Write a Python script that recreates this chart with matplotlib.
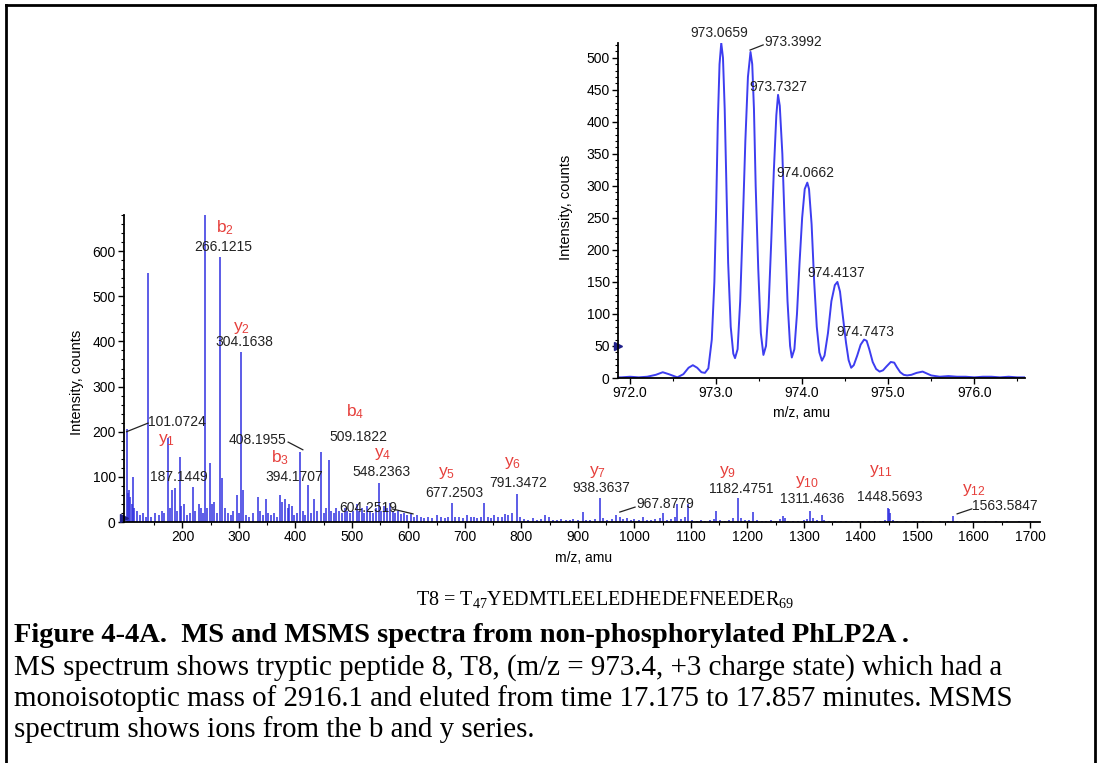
import matplotlib
matplotlib.use("Agg")
import matplotlib.pyplot as plt
from matplotlib.lines import Line2D
from matplotlib.ticker import FixedLocator, MultipleLocator, FormatStrFormatter

plt.rcParams['font.family'] = ['Liberation Sans', 'DejaVu Sans']

# ---------------- MSMS spectrum data (m/z, intensity) ----------------
msms_mz = [101.07, 104, 106, 108, 110, 112.5, 115, 120, 125, 130, 136, 139.1, 145, 152, 158, 163, 168,
           175.12, 178, 182, 187.14, 190, 195, 198, 203, 208, 213, 219, 223, 229, 233, 237, 240.1, 244,
           249, 252, 256, 261, 266.12, 270, 275, 280, 285, 290, 296, 300, 304.16, 307, 312, 318, 325,
           333, 338, 342, 347, 352, 357, 362, 367, 373, 377, 382, 386, 389, 394.17, 398, 403, 408.2,
           413, 417, 422, 427, 433, 438, 445, 450, 454, 459.6, 463, 468, 472, 477, 482, 487, 492, 497,
           502, 509.18, 512, 517, 522, 527, 532, 537, 542, 548.24, 552, 557, 562, 567, 572, 577, 582,
           587, 592, 598, 604.25, 610, 615, 622, 628, 635, 642, 650, 658, 665, 670, 677.25, 683, 690,
           697, 703, 710, 716, 722, 728, 733, 740, 746, 752, 758, 765, 770, 777, 783, 791.35, 797, 805,
           812, 820, 828, 835, 842, 848, 855, 862, 870, 878, 885, 892, 900, 908, 915, 922, 930, 938.36,
           945, 952, 960, 967.88, 975, 980, 987, 993, 1000, 1008, 1015, 1022, 1030, 1037, 1045, 1051,
           1058, 1065, 1072, 1076, 1083, 1090, 1095, 1102, 1110, 1118, 1125, 1133, 1140, 1145, 1152,
           1160, 1168, 1175, 1182.48, 1188, 1195, 1202, 1209, 1216, 1225, 1233, 1242, 1250, 1257, 1262,
           1266, 1272, 1280, 1290, 1300, 1306, 1311.46, 1316, 1323, 1331, 1336, 1345, 1355, 1365, 1375,
           1385, 1395, 1405, 1415, 1425, 1435, 1444, 1448.57, 1450, 1452, 1458, 1465, 1480, 1495, 1510,
           1525, 1540, 1555, 1563.58, 1570, 1585, 1600, 1620, 1640, 1660, 1680, 1700]
msms_int = [205, 65, 70, 55, 40, 100, 30, 25, 15, 20, 10, 552, 12, 20, 15, 25, 20,
            185, 30, 70, 75, 25, 144, 35, 40, 15, 20, 78, 25, 40, 30, 20, 680, 30,
            130, 40, 45, 20, 588, 98, 30, 20, 15, 25, 60, 20, 377, 70, 15, 12, 20,
            55, 25, 15, 50, 20, 15, 20, 12, 60, 45, 50, 30, 40, 35, 15, 20, 155,
            25, 15, 82, 20, 50, 25, 155, 20, 30, 137, 25, 20, 30, 25, 20, 30, 25, 20,
            25, 40, 25, 30, 20, 35, 25, 20, 30, 86, 25, 35, 30, 42, 25, 20, 25,
            18, 20, 15, 18, 12, 15, 10, 8, 12, 8, 15, 10, 8, 12, 42, 10, 12,
            8, 15, 10, 12, 8, 10, 42, 12, 8, 15, 10, 12, 18, 15, 20, 62, 10, 6,
            5, 8, 5, 6, 15, 10, 5, 4, 6, 5, 4, 6, 5, 22, 5, 4, 6, 53,
            8, 4, 6, 15, 10, 6, 8, 5, 6, 4, 10, 5, 4, 6, 8, 20,
            5, 6, 12, 40, 6, 10, 40, 4, 3, 5, 3, 4, 6, 24, 4,
            3, 5, 8, 53, 8, 4, 5, 22, 4, 3, 2, 4, 3, 6, 13,
            8, 3, 2, 3, 4, 6, 24, 8, 5, 15, 5, 3, 2, 3, 2,
            3, 2, 2, 3, 2, 3, 5, 31, 28, 20, 5, 2, 2, 3, 2,
            3, 2, 3, 14, 3, 2, 2, 3, 2, 2, 3, 2]

# peak annotations (text, x, y in data units)
peak_text = ['266.1215', '304.1638', '101.0724', '187.1449', '408.1955', '394.1707', '509.1822',
             '548.2363', '604.2519', '677.2503', '791.3472', '938.3637', '967.8779', '1182.4751',
             '1311.4636', '1448.5693', '1563.5847']
peak_tx = [272, 309, 190, 194, 332, 397, 512, 553, 528, 681, 794, 941, 1054, 1189, 1314, 1452, 1656]
peak_ty = [610, 399, 222, 100, 182, 100, 188, 111, 31, 64, 86, 75, 40, 73, 51, 55, 35]

ion_text = ['b', 'y', 'y', 'b', 'b', 'y', 'y', 'y', 'y', 'y', 'y', 'y', 'y']
ion_sub = ['2', '2', '1', '3', '4', '4', '5', '6', '7', '9', '10', '11', '12']
ion_tx = [275, 305, 172, 373, 505, 555, 668, 785, 934, 1164, 1305, 1436, 1601]
ion_ty = [652, 430, 182, 142, 244, 151, 109, 131, 111, 111, 89, 113, 71]

# leader lines (x0, y0, x1, y1)
leaders_main = [(101.07, 200, 139, 219), (387, 177, 413, 160), (571, 29, 608, 18),
                (974, 22, 1001, 33), (1571, 18, 1597, 29)]

# ---------------- MS (isotope cluster) profile ----------------
iso_mz = [971.86, 971.90, 972.00, 972.10, 972.20, 972.30, 972.38, 972.45, 972.55, 972.62, 972.68,
          972.73, 972.78, 972.83, 972.87, 972.91, 972.95, 972.98, 973.00, 973.02, 973.04, 973.06,
          973.08, 973.10, 973.12, 973.14, 973.17, 973.20, 973.22, 973.25, 973.28, 973.31, 973.34,
          973.37, 973.40, 973.42, 973.44, 973.46, 973.49, 973.52, 973.55, 973.58, 973.61, 973.64,
          973.67, 973.70, 973.72, 973.74, 973.77, 973.80, 973.83, 973.86, 973.88, 973.91, 973.94,
          973.97, 974.00, 974.03, 974.06, 974.08, 974.11, 974.14, 974.17, 974.20, 974.23, 974.26,
          974.30, 974.34, 974.38, 974.41, 974.44, 974.47, 974.51, 974.54, 974.57, 974.60, 974.64,
          974.68, 974.72, 974.75, 974.78, 974.82, 974.86, 974.90, 974.94, 974.98, 975.03, 975.07,
          975.10, 975.14, 975.18, 975.22, 975.27, 975.33, 975.40, 975.45, 975.50, 975.55, 975.60,
          975.70, 975.80, 975.90, 976.00, 976.10, 976.20, 976.30, 976.40, 976.50, 976.59]
iso_int = [1, 1, 2, 1, 2, 5, 9, 6, 1, 6, 16,
           20, 16, 9, 8, 15, 60, 150, 260, 400, 490, 523,
           500, 420, 300, 180, 80, 38, 31, 45, 120, 240, 370,
           470, 509, 490, 420, 300, 170, 70, 36, 50, 110, 210,
           320, 410, 442, 425, 350, 230, 120, 50, 32, 45, 100,
           180, 250, 295, 305, 295, 240, 150, 80, 40, 27, 35,
           70, 120, 145, 150, 135, 100, 55, 28, 16, 20, 35,
           52, 60, 58, 45, 25, 14, 10, 12, 18, 25, 24,
           17, 9, 5, 4, 5, 8, 10, 7, 4, 3, 2,
           3, 2, 2, 1, 2, 2, 1, 2, 1, 1]

iso_text = ['973.0659', '973.3992', '973.7327', '974.0662', '974.4137', '974.7473']
iso_tx = [973.035, 973.895, 973.72, 974.035, 974.395, 974.733]
iso_ty = [539, 525, 455, 320, 164, 72]
leaders_iso = [(973.395, 512, 973.547, 520)]

W, H = 1101, 763
fig = plt.figure(figsize=(W / 100, H / 100), dpi=100)
fig.patch.set_facecolor('white')

BLUE = '#3030e0'
RED = '#e6403c'


def style(ax):
    for s in ('top', 'right'):
        ax.spines[s].set_visible(False)
    for s in ('left', 'bottom'):
        ax.spines[s].set_linewidth(1.3)
    ax.tick_params(which='major', direction='out', length=4, width=1.0, labelsize=10, pad=2)
    ax.tick_params(which='minor', direction='out', length=2, width=0.8)


# ---------------- main MSMS axes ----------------
ax = fig.add_axes([124 / W, 1 - 522 / H, 916 / W, (522 - 215) / H])
ax.vlines(msms_mz, 0, msms_int, color=BLUE, lw=1.1)
ax.set_xlim(96.5, 1717.7)
ax.set_ylim(0, 680)
style(ax)
ax.xaxis.set_major_locator(FixedLocator(list(range(200, 1701, 100))))
ax.xaxis.set_minor_locator(FixedLocator(list(range(150, 1701, 50))))
ax.yaxis.set_major_locator(FixedLocator([0, 100, 200, 300, 400, 500, 600]))
ax.yaxis.set_minor_locator(MultipleLocator(20))
ax.set_xlabel('m/z, amu', fontsize=10)
ax.set_ylabel('Intensity, counts', fontsize=10.5)
ax.xaxis.set_label_coords(0.502, -0.095)
ax.yaxis.set_label_coords(-0.044, 0.455)
ax.plot([96.5], [8], marker='>', color='#20208a', ms=6, clip_on=False)

for t, x, y in zip(peak_text, peak_tx, peak_ty):
    ax.text(x, y, t, fontsize=10, ha='center', va='center', color='#222222', clip_on=False)
for t, s, x, y in zip(ion_text, ion_sub, ion_tx, ion_ty):
    ax.text(x, y, t + r'$\mathregular{_{' + s + '}}$', fontsize=12.5, ha='center', va='center',
            color=RED, clip_on=False)
for x0, y0, x1, y1 in leaders_main:
    ax.plot([x0, x1], [y0, y1], color='#222222', lw=0.9, clip_on=False)

# ---------------- inset MS axes ----------------
ax2 = fig.add_axes([618 / W, 1 - 378 / H, 407 / W, 335 / H])
ax2.plot(iso_mz, iso_int, color='#3d3df0', lw=1.4)
ax2.set_xlim(971.86, 976.59)
ax2.set_ylim(0, 523)
style(ax2)
ax2.xaxis.set_major_locator(FixedLocator([972.0, 973.0, 974.0, 975.0, 976.0]))
ax2.xaxis.set_minor_locator(MultipleLocator(0.5))
ax2.xaxis.set_major_formatter(FormatStrFormatter('%.1f'))
ax2.yaxis.set_major_locator(MultipleLocator(50))
ax2.yaxis.set_minor_locator(MultipleLocator(10))
ax2.set_xlabel('m/z, amu', fontsize=10)
ax2.set_ylabel('Intensity, counts', fontsize=10.5)
ax2.xaxis.set_label_coords(0.45, -0.085)
ax2.yaxis.set_label_coords(-0.11, 0.51)
ax2.plot([971.86], [50], marker='>', color='#20208a', ms=6, clip_on=False)
for t, x, y in zip(iso_text, iso_tx, iso_ty):
    ax2.text(x, y, t, fontsize=10, ha='center', va='center', color='#222222', clip_on=False)
for x0, y0, x1, y1 in leaders_iso:
    ax2.plot([x0, x1], [y0, y1], color='#222222', lw=0.9, clip_on=False)

# ---------------- caption ----------------
serif = ['Liberation Serif', 'DejaVu Serif']
fig.text(605 / W, 1 - 600 / H,
         r'T8 = T$\mathregular{_{47}}$YEDMTLEELEDHEDEFNEEDER$\mathregular{_{69}}$',
         family=serif, fontsize=14.5, ha='center', va='center')
fig.text(14 / W, 1 - 636 / H,
         'Figure 4-4A.  MS and MSMS spectra from non-phosphorylated PhLP2A .',
         family=serif, fontsize=20.5, fontweight='bold', ha='left', va='center')
body = ['MS spectrum shows tryptic peptide 8, T8, (m/z = 973.4, +3 charge state) which had a',
        'monoisotoptic mass of 2916.1 and eluted from time 17.175 to 17.857 minutes. MSMS',
        'spectrum shows ions from the b and y series.']
for i, line in enumerate(body):
    fig.text(14 / W, 1 - (668 + 31 * i) / H, line, family=serif, fontsize=20.9,
             ha='left', va='center')

# ---------------- frame ----------------
for xs, ys in [([6 / W, 6 / W], [0, 1 - 5 / H]),
               ([6 / W, 1095 / W], [1 - 5 / H, 1 - 5 / H]),
               ([1095 / W, 1095 / W], [0, 1 - 5 / H])]:
    fig.add_artist(Line2D(xs, ys, color='black', lw=2, transform=fig.transFigure))

fig.savefig('out.png', dpi=100)
